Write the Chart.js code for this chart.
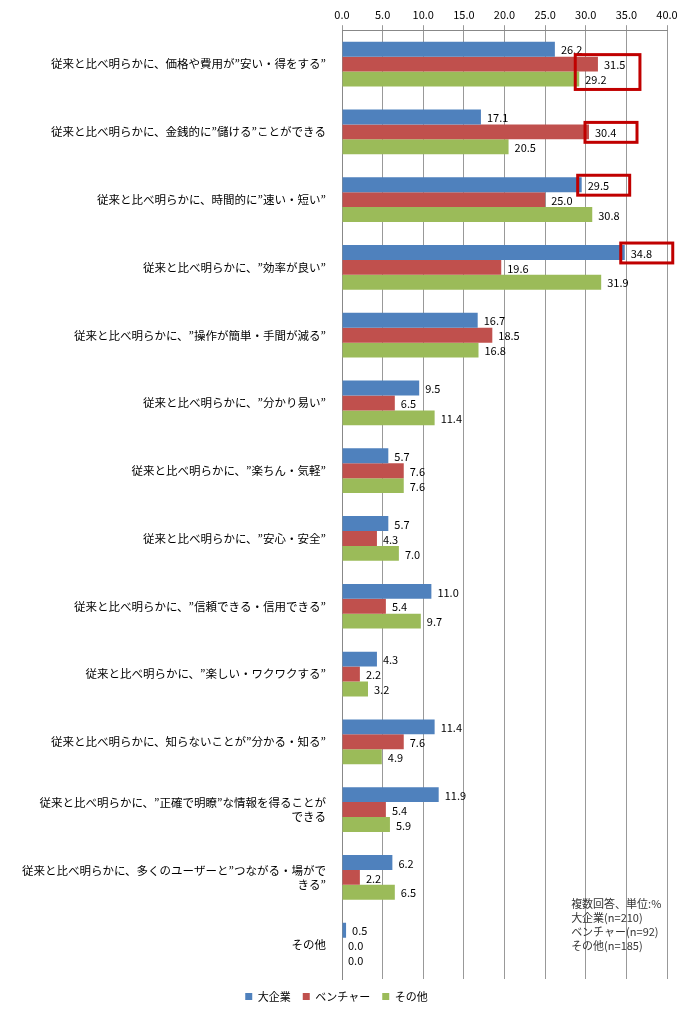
<!DOCTYPE html>
<html><head><meta charset="utf-8">
<script src="https://cdn.jsdelivr.net/npm/chart.js@4/dist/chart.umd.min.js"></script>
<style>html,body{margin:0;padding:0;background:#fff}#w{width:694px;height:1018px;position:relative}</style>
</head><body><div id="w"><canvas id="c"></canvas></div>
<script>
const categories = [
 '従来と比べ明らかに、価格や費用が”安い・得をする”',
 '従来と比べ明らかに、金銭的に”儲ける”ことができる',
 '従来と比べ明らかに、時間的に”速い・短い”',
 '従来と比べ明らかに、”効率が良い”',
 '従来と比べ明らかに、”操作が簡単・手間が減る”',
 '従来と比べ明らかに、”分かり易い”',
 '従来と比べ明らかに、”楽ちん・気軽”',
 '従来と比べ明らかに、”安心・安全”',
 '従来と比べ明らかに、”信頼できる・信用できる”',
 '従来と比べ明らかに、”楽しい・ワクワクする”',
 '従来と比べ明らかに、知らないことが”分かる・知る”',
 ['従来と比べ明らかに、”正確で明瞭”な情報を得ることが','できる'],
 ['従来と比べ明らかに、多くのユーザーと”つながる・場がで','きる”'],
 'その他'
];
const seriesNames = ['大企業','ベンチャー','その他'];
const large   = [26.2,17.1,29.5,34.8,16.7,9.5,5.7,5.7,11.0,4.3,11.4,11.9,6.2,0.5];
const venture = [31.5,30.4,25.0,19.6,18.5,6.5,7.6,4.3,5.4,2.2,7.6,5.4,2.2,0.0];
const others  = [29.2,20.5,30.8,31.9,16.8,11.4,7.6,7.0,9.7,3.2,4.9,5.9,6.5,0.0];
const colors = ['#4f81bd','#c0504d','#9bbb59'];
// highlighted (category index, series indices)
const highlights = [[0,[1,2]],[1,[1]],[2,[0]],[3,[0]]];
const noteLines = ['複数回答、単位:%','大企業(n=210)','ベンチャー(n=92)','その他(n=185)'];
const FONT = "'Noto Sans CJK JP', sans-serif";

const labelPlugin = {id:'lbl', afterDatasetsDraw(ch){
  const c=ch.ctx; c.save(); c.font='11px '+FONT; c.fillStyle='#000'; c.textBaseline='middle';
  ch.data.datasets.forEach((d,i)=>{ch.getDatasetMeta(i).data.forEach((b,j)=>{
    c.fillText(d.data[j].toFixed(1), b.x+6, b.y+1);});});
  c.strokeStyle='#c00000'; c.lineWidth=3;
  highlights.forEach(([cat,ss])=>{
    const bars=ss.map(s=>ch.getDatasetMeta(s).data[cat]);
    const top=Math.min(...bars.map(b=>b.y-b.height/2))-2;
    const bot=Math.max(...bars.map(b=>b.y+b.height/2))+3;
    const maxX=Math.max(...bars.map(b=>b.x));
    const left = Math.min(...bars.map(b=>b.x))-4;
    c.strokeRect(left, top, Math.max(maxX+42-left,52), bot-top);
  });
  c.font='11px '+FONT; c.fillStyle='#333'; c.textBaseline='alphabetic';
  const xs=ch.scales.x, ys=ch.scales.y;
  const nx=xs.getPixelForValue(28.2), ny=ys.getPixelForValue(12.45);
  noteLines.forEach((t,k)=>c.fillText(t,nx,ny+k*14));
  c.restore();
}};

new Chart(document.getElementById('c'),{
 type:'bar',
 data:{labels:categories,datasets:[large,venture,others].map((d,i)=>({label:seriesNames[i],data:d,backgroundColor:colors[i],categoryPercentage:0.66,barPercentage:1}))},
 options:{indexAxis:'y',responsive:true,maintainAspectRatio:false,animation:false,
  layout:{padding:{left:6,right:27,top:4,bottom:6}},
  scales:{
   x:{position:'top',min:0,max:40,ticks:{stepSize:5,callback:v=>v.toFixed(1),color:'#000',font:{size:11,family:FONT},padding:4},
      grid:{color:'#999',tickLength:5,drawTicks:true},border:{color:'#888'}},
   y:{ticks:{color:'#000',font:{size:11.5,family:FONT},padding:8,autoSkip:false},
      grid:{display:false,drawTicks:true},border:{color:'#888'},
      afterFit(s){s.width=336;}}
  },
  plugins:{legend:{position:'bottom',labels:{boxWidth:7,boxHeight:7,color:'#000',font:{size:11,family:FONT},padding:12}},tooltip:{enabled:false}}
 },
 plugins:[labelPlugin]
});
</script></body></html>
